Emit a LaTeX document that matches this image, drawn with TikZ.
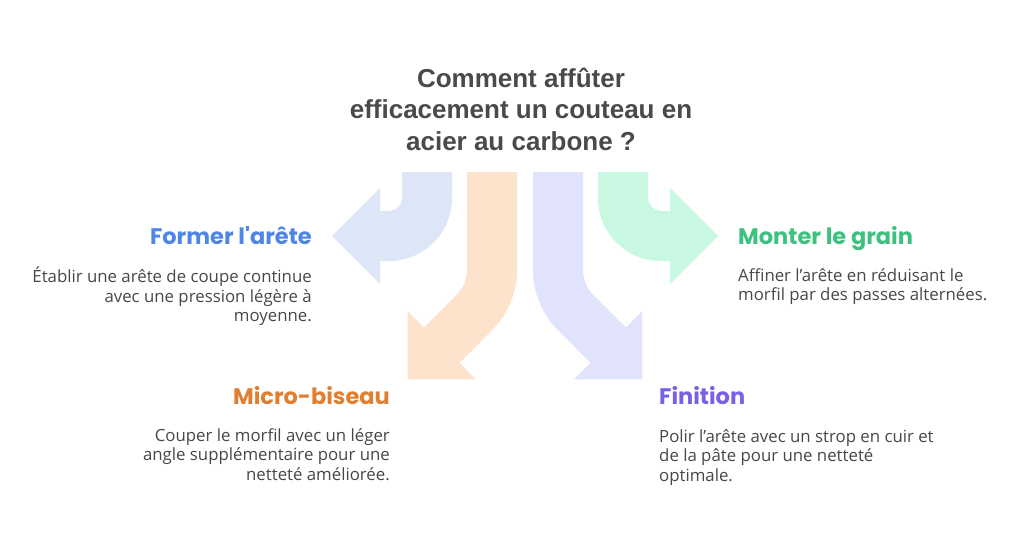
\documentclass[tikz,border=0pt]{standalone}
\usepackage{fontspec}
\setmainfont{Open Sans}
\newfontfamily\titlefont{Liberation Sans}
\newfontfamily\headfont{Poppins}
\usepackage{tikz}

\definecolor{bleuF}{HTML}{DDE6F6}
\definecolor{orangeF}{HTML}{FDE3CC}
\definecolor{violetF}{HTML}{E1E3FD}
\definecolor{vertF}{HTML}{C8F8E1}
\definecolor{bleuT}{HTML}{4F86E6}
\definecolor{orangeT}{HTML}{E07F2F}
\definecolor{violetT}{HTML}{7B60E6}
\definecolor{vertT}{HTML}{3DC17E}
\definecolor{grisTitre}{HTML}{4A4A4A}
\definecolor{grisTexte}{HTML}{474747}

\tikzset{
  titre/.style={font=\titlefont\bfseries\fontsize{26}{31.5}\selectfont,text=grisTitre,align=center,anchor=base,inner sep=0},
  etape/.style={font=\headfont\bfseries\fontsize{22.5}{26}\selectfont,inner sep=0},
  texte/.style={font=\fontsize{16.8}{19.5}\selectfont,text=grisTexte,inner sep=0}
}

\begin{document}
\begin{tikzpicture}[x=1pt,y=-1pt]
  \useasboundingbox[fill=white] (0,0) rectangle (1024,538);
  % left pair, then the same mirrored on the axis x=525
  \foreach \s/\ca/\cb in {1/bleuF/orangeF,-1/vertF/violetF}{
  \begin{scope}[shift={(525,0)},xscale=\s]
  \fill[\ca] (-123,172) -- (-73,172) -- (-73,198) arc[start angle=0,end angle=90,radius=63] -- (-145,261) -- (-145,284) -- (-193,236) -- (-145,188) -- (-145,211) -- (-136,211) arc[start angle=90,end angle=0,radius=13] -- cycle;
  \fill[\cb] (-58,172) -- (-8,172) -- (-8,270) arc[start angle=0,end angle=45,radius=85] -- (-65.5,362.8) -- (-49,379.3) -- (-117.3,379.3) -- (-117.3,311) -- (-100.8,327.5) -- (-68.25,294.75) arc[start angle=45,end angle=0,radius=35] -- cycle;
  \end{scope}
  }

  % base of a multi-line node = last line
  \node[titre] (question) at (521,150) {Comment affûter\\efficacement un couteau en\\acier au carbone ?};

  \node[etape,text=bleuT,anchor=base east] (former) at (312,244) {Former l'arête};
  \node[texte,align=right,anchor=base east] (formerTxt) at (312,321.5) {Établir une arête de coupe continue\\avec une pression légère à\\moyenne.};
  \node[etape,text=vertT,anchor=base west] (monter) at (738,244) {Monter le grain};
  \node[texte,align=left,anchor=base west] (monterTxt) at (738,300.5) {Affiner l'arête en réduisant le\\morfil par des passes alternées.};
  \node[etape,text=orangeT,anchor=base east] (micro) at (390,404) {Micro-biseau};
  \node[texte,align=right,anchor=base east] (microTxt) at (390,480) {Couper le morfil avec un léger\\angle supplémentaire pour une\\netteté améliorée.};
  \node[etape,text=violetT,anchor=base west] (finition) at (659,404) {Finition};
  \node[texte,align=left,anchor=base west] (finitionTxt) at (659,481) {Polir l'arête avec un strop en cuir et\\de la pâte pour une netteté\\optimale.};
\end{tikzpicture}
\end{document}
